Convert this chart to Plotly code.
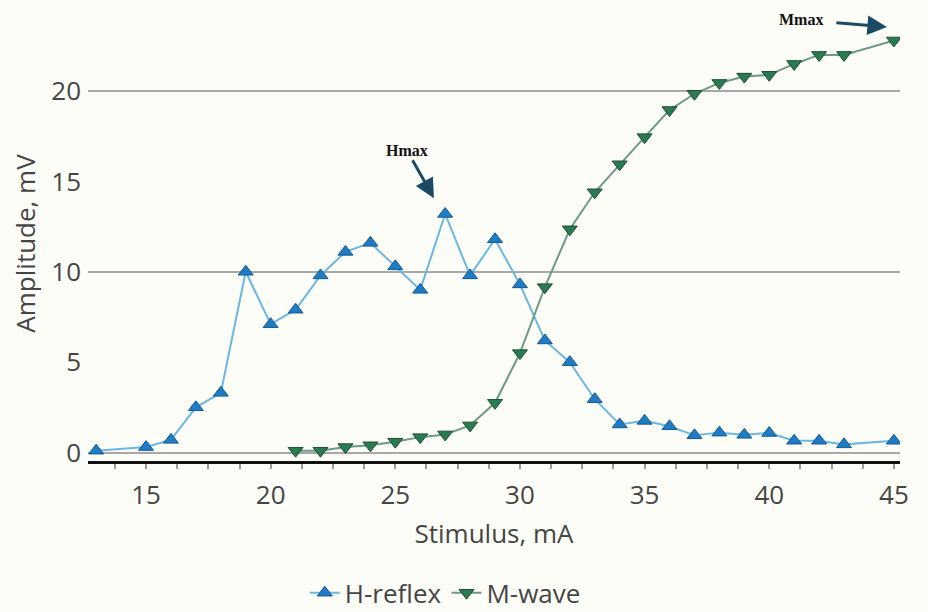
import plotly.graph_objects as go

# Data
h_stim = [13, 15, 16, 17, 18, 19, 20, 21, 22, 23, 24, 25, 26, 27, 28, 29, 30,
          31, 32, 33, 34, 35, 36, 37, 38, 39, 40, 41, 42, 43, 45]
h_amp = [0.1, 0.3, 0.7, 2.5, 3.3, 10.0, 7.1, 7.9, 9.8, 11.1, 11.6, 10.3, 9.0, 13.2,
         9.8, 11.8, 9.3, 6.2, 5.0, 2.95, 1.55, 1.75, 1.45, 0.95, 1.1, 0.98, 1.08,
         0.65, 0.65, 0.45, 0.65]
m_stim = [21, 22, 23, 24, 25, 26, 27, 28, 29, 30, 31, 32, 33, 34, 35, 36, 37, 38,
          39, 40, 41, 42, 43, 45]
m_amp = [0.1, 0.1, 0.3, 0.4, 0.6, 0.85, 1.0, 1.5, 2.75, 5.5, 9.15, 12.35, 14.4,
         15.95, 17.45, 18.95, 19.85, 20.45, 20.8, 20.9, 21.5, 22.0, 22.0, 22.8]

x_ticks = [15, 20, 25, 30, 35, 40, 45]
y_ticks = [0, 5, 10, 15, 20]

FONT = "Open Sans"
TXT = "#454545"
BG = "#fdfdf8"
FS = 26

fig = go.Figure()
fig.add_trace(go.Scatter(
    x=h_stim, y=h_amp, mode="lines+markers", name="H-reflex",
    line=dict(color="#6bb6e2", width=2),
    marker=dict(symbol="triangle-up", size=13, color="#1f7cc4",
                line=dict(color="#135a92", width=1)),
))
fig.add_trace(go.Scatter(
    x=m_stim, y=m_amp, mode="lines+markers", name="M-wave",
    line=dict(color="#6d9a84", width=2),
    marker=dict(symbol="triangle-down", size=13, color="#2b7a52",
                line=dict(color="#1c4f36", width=1)),
))

yr = [-0.47, 23.6]
fig.update_layout(
    width=928, height=612,
    margin=dict(l=88, r=28, t=26, b=151, autoexpand=False),
    paper_bgcolor=BG, plot_bgcolor=BG,
    font=dict(family=FONT, size=FS, color=TXT),
    showlegend=True,
    legend=dict(orientation="h", x=0.267, xanchor="left", y=-0.303, yanchor="middle",
                font=dict(size=FS, color=TXT), bgcolor="rgba(0,0,0,0)"),
    xaxis=dict(
        range=[12.673, 45.245], tickvals=x_ticks, showgrid=False, zeroline=False,
        showline=True, linecolor="#111111", linewidth=2.5,
        ticks="outside", ticklen=5, tickcolor="#9a9a9a", tickwidth=1.5,
        ticklabelstandoff=4,
        minor=dict(dtick=1.25, tick0=15, ticks="outside", ticklen=5,
                   tickcolor="#9a9a9a", tickwidth=1.5),
        tickfont=dict(size=FS, color=TXT), automargin=False,
        title=dict(text="Stimulus, mA", font=dict(size=FS, color=TXT), standoff=14),
    ),
    yaxis=dict(
        range=yr, tickvals=y_ticks, showgrid=False, zeroline=False,
        showline=False, ticks="", ticklabelstandoff=6, automargin=False,
        tickfont=dict(size=FS, color=TXT),
        title=dict(text="Amplitude, mV", font=dict(size=FS, color=TXT), standoff=8),
    ),
    yaxis2=dict(
        range=yr, overlaying="y", side="left", dtick=10, tick0=0,
        showgrid=True, gridcolor="#a8a8a8", gridwidth=2, zeroline=False,
        showticklabels=False, showline=False, ticks="", automargin=False,
    ),
)

# invisible helper so the grid axis is drawn
fig.add_trace(go.Scatter(x=[h_stim[0]], y=[h_amp[0]], yaxis="y2", mode="markers",
                         marker=dict(opacity=0), showlegend=False, hoverinfo="skip"))

ARROW = "#1b4a66"
ANN_FONT = dict(family="Liberation Serif", size=16, color="#111111")
fig.add_annotation(x=26.55, y=14.07, xref="x", yref="y", text="<b>Hmax</b>",
                   showarrow=True, ax=-27, ay=-48, arrowhead=2, arrowsize=1.3,
                   arrowwidth=3, arrowcolor=ARROW, font=ANN_FONT, startstandoff=0)
fig.add_annotation(x=44.72, y=23.55, xref="x", yref="y", text="<b>Mmax</b>",
                   showarrow=True, ax=-86, ay=-7, arrowhead=2, arrowsize=1.3,
                   arrowwidth=3, arrowcolor=ARROW, font=ANN_FONT, startstandoff=12)

fig.write_html("out.html")
